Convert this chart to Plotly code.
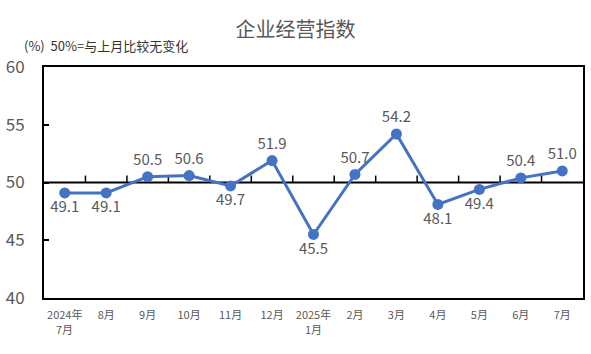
import plotly.graph_objects as go

categories = ["2024年", "8月", "9月", "10月", "11月", "12月", "2025年",
              "2月", "3月", "4月", "5月", "6月", "7月"]
sub_labels = {0: "7月", 6: "1月"}
values = [49.1, 49.1, 50.5, 50.6, 49.7, 51.9, 45.5, 50.7, 54.2, 48.1, 49.4, 50.4, 51.0]
label_pos = ["bottom center", "bottom center", "top center", "top center", "bottom center",
             "top center", "bottom center", "top center", "top center", "bottom center",
             "bottom center", "top center", "top center"]
y_ticks = [40, 45, 50, 55, 60]

x_idx = list(range(len(categories)))
gray = "#595959"
font = "Microsoft YaHei, Noto Sans CJK SC, sans-serif"

fig = go.Figure()
fig.add_trace(go.Scatter(
    x=x_idx, y=values, mode="lines+markers+text",
    line=dict(color="#4472C4", width=3),
    marker=dict(color="#4472C4", size=11),
    text=[f"{v:.1f}" for v in values], textposition=label_pos,
    textfont=dict(size=15, color=gray, family=font),
    cliponaxis=False, showlegend=False,
))

shapes = [dict(type="line", xref="paper", yref="y", x0=0, x1=1, y0=50, y1=50,
               line=dict(color="black", width=2), layer="below")]
for i in range(len(categories) - 1):
    shapes.append(dict(type="line", xref="x", yref="y", x0=i + 0.5, x1=i + 0.5,
                       y0=50, y1=50.6, line=dict(color="black", width=1.5), layer="below"))

annotations = [dict(text="(%)  50%=与上月比较无变化", xref="paper", yref="paper",
                    x=-0.04, y=1.0, xanchor="left", yanchor="bottom", yshift=10,
                    showarrow=False, font=dict(size=13, color="#333333", family=font))]
for i, t in sub_labels.items():
    annotations.append(dict(text=t, xref="x", yref="paper", x=i, y=0, xanchor="center",
                            yanchor="top", yshift=-21, showarrow=False,
                            font=dict(size=11, color=gray, family=font)))

fig.update_layout(
    width=591, height=354,
    margin=dict(l=44, r=6, t=67, b=56),
    paper_bgcolor="white", plot_bgcolor="white",
    title=dict(text="企业经营指数", x=0.5, xanchor="center", y=0.915, yanchor="middle",
               font=dict(size=20, color=gray, family=font)),
    xaxis=dict(tickmode="array", tickvals=x_idx, ticktext=categories, range=[-0.5, 12.5],
               showgrid=False, zeroline=False, ticks="", showline=True, linecolor="black",
               linewidth=2, mirror=True, ticklabelstandoff=6,
               tickfont=dict(size=11, color=gray, family=font)),
    yaxis=dict(range=[40, 60], tickvals=y_ticks, showgrid=False, zeroline=False,
               ticks="inside", ticklen=5, tickcolor="black", tickwidth=2,
               showline=True, linecolor="black", linewidth=2, mirror=True,
               ticklabelstandoff=14,
               tickfont=dict(size=17, color=gray, family=font)),
    shapes=shapes,
    annotations=annotations,
)

fig.write_html("out.html")
